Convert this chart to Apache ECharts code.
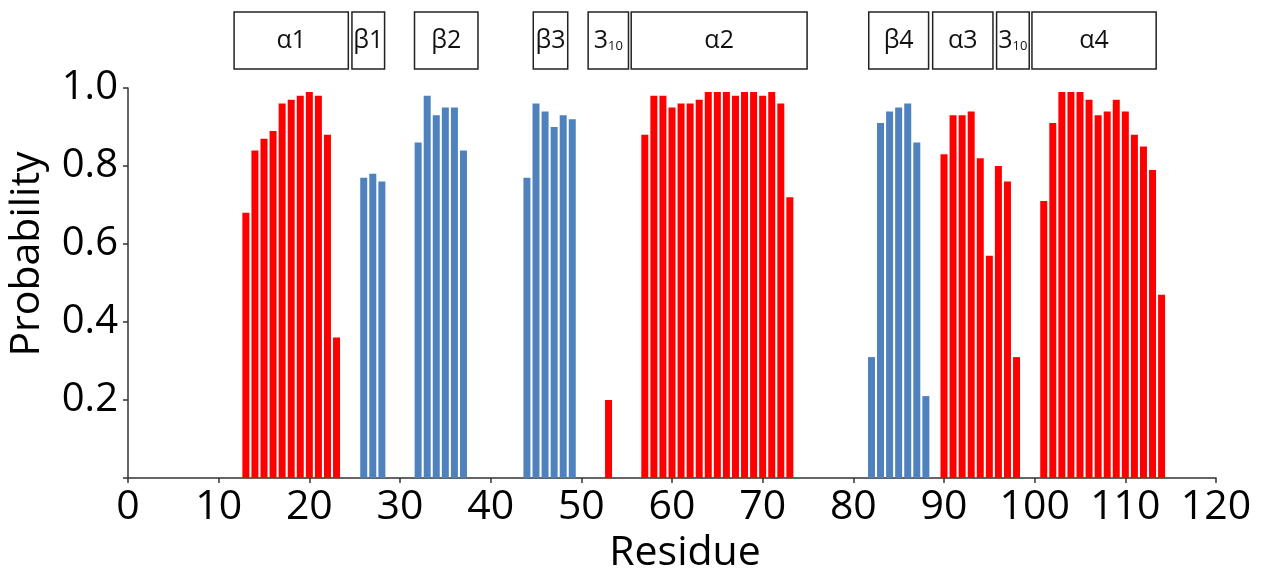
<!DOCTYPE html>
<html>
<head>
<meta charset="utf-8">
<title>Secondary structure probability</title>
<script src="https://cdn.jsdelivr.net/npm/echarts@6/dist/echarts.min.js"></script>
<style>
  html, body { margin: 0; padding: 0; background: #fff; }
  #main { width: 1261px; height: 572px; }
</style>
</head>
<body>
<div id="main"></div>
<script>
// helix residues (red)
var helixRes = [13, 14, 15, 16, 17, 18, 19, 20, 21, 22, 23,
    53,
    57, 58, 59, 60, 61, 62, 63, 64, 65, 66, 67, 68, 69, 70, 71, 72, 73,
    90, 91, 92, 93, 94, 95, 96, 97, 98,
    101, 102, 103, 104, 105, 106, 107, 108, 109, 110, 111, 112, 113, 114];
var helixProb = [0.68, 0.84, 0.87, 0.89, 0.96, 0.97, 0.98, 0.99, 0.98, 0.88, 0.36,
    0.20,
    0.88, 0.98, 0.98, 0.95, 0.96, 0.96, 0.97, 0.99, 0.99, 0.99, 0.98, 0.99, 0.99, 0.98, 0.99, 0.96, 0.72,
    0.83, 0.93, 0.93, 0.94, 0.82, 0.57, 0.80, 0.76, 0.31,
    0.71, 0.91, 0.99, 0.99, 0.99, 0.97, 0.93, 0.94, 0.97, 0.94, 0.88, 0.85, 0.79, 0.47];

// strand residues (blue)
var strandRes = [26, 27, 28,
    32, 33, 34, 35, 36, 37,
    44, 45, 46, 47, 48, 49,
    82, 83, 84, 85, 86, 87, 88];
var strandProb = [0.77, 0.78, 0.76,
    0.86, 0.98, 0.93, 0.95, 0.95, 0.84,
    0.77, 0.96, 0.94, 0.90, 0.93, 0.92,
    0.31, 0.91, 0.94, 0.95, 0.96, 0.86, 0.21];

// structure boxes on top
var structNames = ['α1', 'β1', 'β2', 'β3', '3{s|10}', 'α2', 'β4', 'α3', '3{s|10}', 'α4'];
var structStart = [11.7, 24.7, 31.6, 44.7, 50.75, 55.5, 81.7, 88.75, 95.8, 99.7];
var structEnd = [24.3, 28.3, 38.6, 48.5, 55.2, 74.9, 88.3, 95.4, 99.4, 113.4];

var xTicks = [0, 120, 10];   // min, max, interval
var yTicks = [0, 1, 0.2];

var FONT = '"Open Sans", "Noto Sans", sans-serif';

function pairs(xs, ys) {
    return xs.map(function (x, i) { return [x, ys[i]]; });
}

var myChart = echarts.init(document.getElementById('main'));
myChart.setOption({
    animation: false,
    grid: { left: 128, right: 45, top: 88, bottom: 94, containLabel: false, outerBoundsMode: 'none' },
    xAxis: {
        type: 'value',
        min: xTicks[0], max: xTicks[1], interval: xTicks[2],
        name: 'Residue',
        nameLocation: 'middle',
        nameGap: 52,
        nameTextStyle: { fontFamily: FONT, fontSize: 41, color: '#000', padding: [0, 0, 0, 26] },
        splitLine: { show: false },
        axisLine: { lineStyle: { color: '#333', width: 1.5 } },
        axisTick: { length: 5, lineStyle: { color: '#333', width: 1.5 } },
        axisLabel: { margin: 9, fontFamily: FONT, fontSize: 41, color: '#000' }
    },
    yAxis: {
        type: 'value',
        min: yTicks[0], max: yTicks[1], interval: yTicks[2],
        name: 'Probability',
        nameLocation: 'middle',
        nameGap: 80,
        nameTextStyle: { fontFamily: FONT, fontSize: 41, color: '#000', padding: [0, 0, 0, 58] },
        splitLine: { show: false },
        axisLine: { show: true, lineStyle: { color: '#333', width: 1.5 } },
        axisTick: { show: true, length: 5, lineStyle: { color: '#333', width: 1.5 } },
        axisLabel: {
            margin: 10, fontFamily: FONT, fontSize: 40, color: '#000',
            formatter: function (v) { return v === 0 ? '' : v.toFixed(1); }
        }
    },
    series: [
        {
            name: 'helix',
            type: 'bar',
            barWidth: 7,
            barGap: '-100%',
            itemStyle: { color: '#ff0000' },
            data: pairs(helixRes, helixProb)
        },
        {
            name: 'strand',
            type: 'bar',
            barWidth: 7,
            barGap: '-100%',
            itemStyle: { color: '#4f81bd' },
            data: pairs(strandRes, strandProb)
        },
        {
            name: 'structure',
            type: 'custom',
            clip: false,
            silent: true,
            data: structNames.map(function (n, i) { return [structStart[i], structEnd[i], i]; }),
            renderItem: function (params, api) {
                var i = api.value(2);
                var p0 = api.coord([api.value(0), 1]);
                var p1 = api.coord([api.value(1), 1]);
                var top = p0[1] - 76, h = 57;
                return {
                    type: 'group',
                    children: [
                        {
                            type: 'rect',
                            shape: { x: p0[0], y: top, width: p1[0] - p0[0], height: h },
                            style: { fill: '#fff', stroke: '#222', lineWidth: 1.5 }
                        },
                        {
                            type: 'text',
                            x: (p0[0] + p1[0]) / 2,
                            y: top + h / 2,
                            style: {
                                text: structNames[i],
                                align: 'center',
                                verticalAlign: 'middle',
                                fontFamily: FONT,
                                fontSize: 25,
                                fill: '#111',
                                rich: {
                                    s: { fontSize: 13, fontFamily: FONT, fill: '#111', padding: [12, 0, 0, 0] }
                                }
                            }
                        }
                    ]
                };
            }
        }
    ]
});
</script>
</body>
</html>
